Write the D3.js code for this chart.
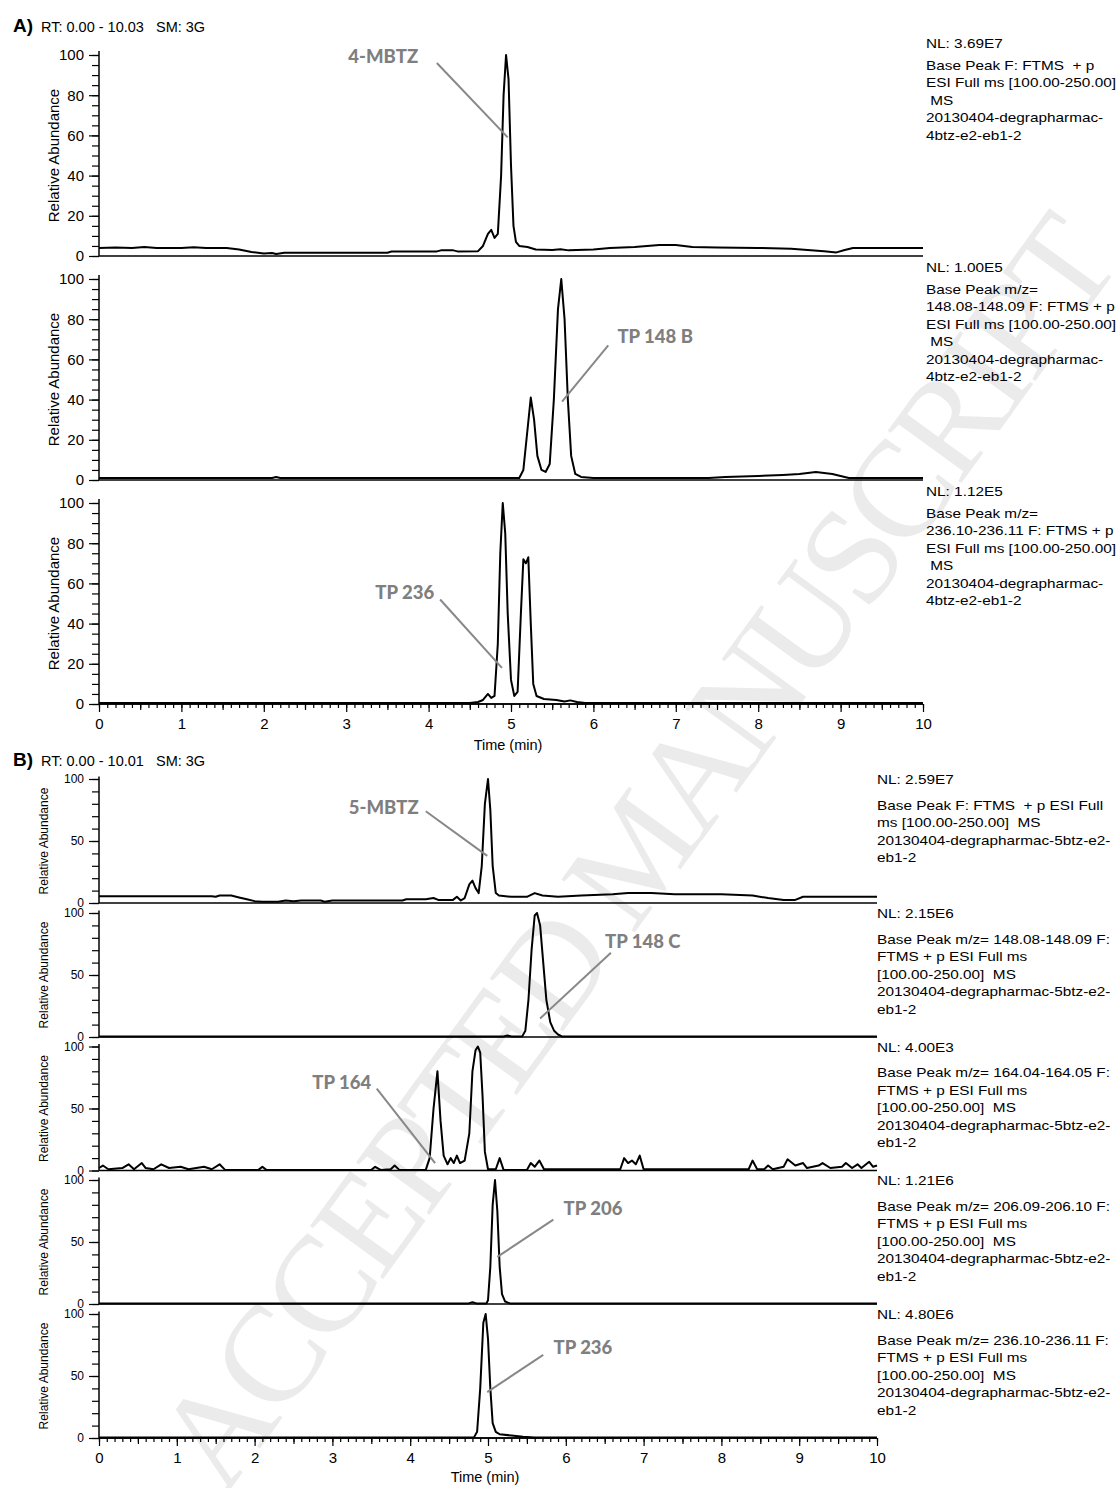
<!DOCTYPE html>
<html>
<head>
<meta charset="utf-8">
<script src="https://cdn.jsdelivr.net/npm/d3@7"></script>
<style>
  body { margin: 0; background: #fff; }
  svg text { font-family: "Liberation Sans", Arial, sans-serif; }
</style>
</head>
<body>
<div id="figure"></div>
<script>
// chromatogram traces: [time (min), relative abundance (%)]
var traceA1 = [[0,4],[0.2,4.2],[0.4,4],[0.55,4.5],[0.7,4],[1.0,4],[1.15,4.4],[1.3,4],[1.55,4],[1.7,3.2],[1.85,2],[2.0,1.2],[2.1,1.5],[2.15,1],[2.25,1.6],[3.5,1.6],[3.55,2.2],[4.1,2.3],[4.15,2.8],[4.3,2.8],[4.35,2.3],[4.6,2.4],[4.66,5],[4.72,11],[4.76,13],[4.8,9],[4.84,11],[4.88,40],[4.91,80],[4.94,100],[4.97,88],[5.0,45],[5.03,15],[5.06,7],[5.1,5],[5.2,4.5],[5.3,3.2],[5.5,3],[5.6,3.4],[5.7,2.8],[6.0,3.2],[6.2,4],[6.5,4.5],[6.8,5.5],[7.0,5.5],[7.2,4.5],[7.5,4.2],[8.0,4],[8.4,3.6],[8.6,3],[8.8,2.4],[8.95,1.8],[9.05,3],[9.15,4],[10,4]];
var traceA2 = [[0,1],[2.1,1],[2.15,1.5],[2.2,1],[5.1,1],[5.15,5],[5.2,25],[5.24,41],[5.28,30],[5.32,12],[5.37,5],[5.42,4],[5.47,8],[5.52,40],[5.57,85],[5.61,100],[5.65,80],[5.69,40],[5.73,12],[5.78,3],[5.85,1.5],[6.0,1],[7.4,1],[7.6,1.5],[8.0,2],[8.3,2.5],[8.5,3],[8.7,4],[8.8,3.5],[8.9,3],[9.0,2],[9.1,1],[10,1]];
var traceA3 = [[0,0.5],[4.5,0.5],[4.6,1],[4.66,2],[4.72,5],[4.76,3],[4.8,4],[4.84,30],[4.87,75],[4.9,100],[4.93,85],[4.96,45],[5.0,12],[5.04,4],[5.08,6],[5.12,45],[5.15,72],[5.18,70],[5.21,73],[5.24,40],[5.27,10],[5.31,4],[5.4,2.5],[5.55,2],[5.65,1.2],[5.72,1.8],[5.8,1],[5.9,0.5],[10,0.5]];
var traceB1 = [[0,5.5],[1.45,5.5],[1.5,5],[1.55,6],[1.7,6],[1.8,4.5],[1.9,3],[2.0,1.5],[2.1,1],[2.3,1],[2.4,2],[2.5,1.5],[2.6,2],[2.85,2],[2.9,1],[3.0,2],[3.9,2],[3.95,3],[4.2,3],[4.3,4],[4.36,2.5],[4.55,2.5],[4.6,5],[4.65,2],[4.7,4],[4.76,15],[4.8,18],[4.84,12],[4.88,8],[4.92,30],[4.96,80],[5.0,100],[5.03,75],[5.06,30],[5.1,8],[5.14,6],[5.3,5],[5.5,5],[5.6,8],[5.7,6],[5.9,5],[6.2,6],[6.6,7],[6.8,8],[7.1,8],[7.4,7],[8.0,7],[8.4,6],[8.6,4],[8.8,2.5],[8.95,2.5],[9.05,5],[10,5]];
var traceB2 = [[0,0.5],[5.2,0.5],[5.25,1.2],[5.3,0.5],[5.44,0.5],[5.48,5],[5.52,30],[5.56,70],[5.6,98],[5.63,100],[5.67,90],[5.71,60],[5.75,30],[5.8,12],[5.85,5],[5.9,2],[5.95,0.5],[10,0.5]];
var traceB3 = [[0,2],[0.05,4],[0.12,1],[0.3,2],[0.38,5],[0.45,1],[0.55,6],[0.6,2],[0.7,1],[0.8,5],[0.9,2],[1.05,3],[1.15,1],[1.35,3],[1.45,1],[1.55,5],[1.62,0.5],[2.05,0.5],[2.1,3],[2.15,0.5],[3.5,0.5],[3.55,3],[3.62,0.5],[3.75,1],[3.8,4],[3.86,0.5],[4.2,0.5],[4.25,10],[4.3,50],[4.35,80],[4.39,40],[4.43,12],[4.48,5],[4.52,10],[4.56,6],[4.6,12],[4.64,6],[4.7,8],[4.76,30],[4.8,80],[4.84,97],[4.87,100],[4.9,95],[4.93,60],[4.96,15],[5.0,1],[5.1,1],[5.15,10],[5.2,0.5],[5.5,0.5],[5.55,6],[5.6,3],[5.66,8],[5.72,1],[6.7,1],[6.75,10],[6.8,6],[6.85,8],[6.9,5],[6.95,12],[7.0,1],[8.35,1],[8.4,8],[8.46,1],[8.55,1],[8.6,4],[8.66,1],[8.8,3],[8.85,9],[8.95,4],[9.05,6],[9.1,2],[9.25,4],[9.3,6],[9.4,2],[9.55,3],[9.6,6],[9.68,2],[9.75,5],[9.8,2],[9.9,7],[9.95,3],[10,4]];
var traceB4 = [[0,0.5],[4.75,0.5],[4.8,1.5],[4.85,0.5],[4.98,0.5],[5.0,3],[5.03,30],[5.06,80],[5.09,100],[5.12,75],[5.15,30],[5.18,8],[5.22,2],[5.28,0.5],[10,0.5]];
var traceB5 = [[0,0.5],[4.82,0.5],[4.86,5],[4.9,40],[4.94,93],[4.97,100],[5.0,80],[5.03,40],[5.06,12],[5.1,5],[5.15,3],[5.3,2],[5.45,1],[5.6,0.5],[10,0.5]];

// compound names
var namesA = ["4-MBTZ", "TP 148 B", "TP 236"];
var namesB = ["5-MBTZ", "TP 148 C", "TP 164", "TP 206", "TP 236"];

// instrument notes on the right
var infoA1 = ["NL: 3.69E7", "Base Peak F: FTMS  + p", "ESI Full ms [100.00-250.00]", " MS", "20130404-degrapharmac-", "4btz-e2-eb1-2"];
var infoA2 = ["NL: 1.00E5", "Base Peak m/z=", "148.08-148.09 F: FTMS + p", "ESI Full ms [100.00-250.00]", " MS", "20130404-degrapharmac-", "4btz-e2-eb1-2"];
var infoA3 = ["NL: 1.12E5", "Base Peak m/z=", "236.10-236.11 F: FTMS + p", "ESI Full ms [100.00-250.00]", " MS", "20130404-degrapharmac-", "4btz-e2-eb1-2"];
var infoB1 = ["NL: 2.59E7", "Base Peak F: FTMS  + p ESI Full", "ms [100.00-250.00]  MS", "20130404-degrapharmac-5btz-e2-", "eb1-2"];
var infoB2 = ["NL: 2.15E6", "Base Peak m/z= 148.08-148.09 F:", "FTMS + p ESI Full ms", "[100.00-250.00]  MS", "20130404-degrapharmac-5btz-e2-", "eb1-2"];
var infoB3 = ["NL: 4.00E3", "Base Peak m/z= 164.04-164.05 F:", "FTMS + p ESI Full ms", "[100.00-250.00]  MS", "20130404-degrapharmac-5btz-e2-", "eb1-2"];
var infoB4 = ["NL: 1.21E6", "Base Peak m/z= 206.09-206.10 F:", "FTMS + p ESI Full ms", "[100.00-250.00]  MS", "20130404-degrapharmac-5btz-e2-", "eb1-2"];
var infoB5 = ["NL: 4.80E6", "Base Peak m/z= 236.10-236.11 F:", "FTMS + p ESI Full ms", "[100.00-250.00]  MS", "20130404-degrapharmac-5btz-e2-", "eb1-2"];

var timeTicks = d3.range(0, 11);
var yTicksA = [0, 20, 40, 60, 80, 100];
var yTicksB = [0, 50, 100];

// label placement (data coords): text anchor [t, v], leader from [t, v] to [t, v]
var callA = [
  {text: [3.45, 96], from: [4.1, 96], to: [4.96, 59]},
  {text: [6.75, 68], from: [6.18, 67], to: [5.62, 39]},
  {text: [3.71, 52], from: [4.14, 52], to: [4.89, 18]}
];
var callB = [
  {text: [3.66, 72], from: [4.2, 74], to: [4.99, 38]},
  {text: [6.99, 72], from: [6.58, 68], to: [5.67, 15]},
  {text: [3.12, 66], from: [3.57, 66], to: [4.32, 6]},
  {text: [6.35, 72], from: [5.84, 68], to: [5.12, 38]},
  {text: [6.22, 68], from: [5.71, 67], to: [4.99, 37]}
];

var svg = d3.select("#figure").append("svg")
  .attr("width", 1120)
  .attr("height", 1488);

// watermark
svg.append("text")
  .attr("transform", "translate(635,850) rotate(-54)")
  .attr("text-anchor", "middle")
  .attr("dy", "0.35em")
  .style("font-family", "'Liberation Serif', 'DejaVu Serif', serif")
  .style("font-size", "138px")
  .attr("textLength", 1530)
  .attr("lengthAdjust", "spacing")
  .attr("fill", "#ebebeb")
  .text("ACCEPTED MANUSCRIPT");

var line = d3.line();

function drawPanel(p) {
  var x = d3.scaleLinear().domain([0, 10]).range([p.x0, p.x1]);
  var g = svg.append("g");

  // header
  g.append("text").attr("x", 13).attr("y", p.headY)
    .style("font-weight", "bold").style("font-size", "19px")
    .text(p.letter);
  g.append("text").attr("x", 41).attr("y", p.headY)
    .style("font-size", "14.5px").style("white-space", "pre")
    .text(p.rt);

  p.traces.forEach(function(tr, i) {
    var base = p.bases[i];
    var y = d3.scaleLinear().domain([0, 100]).range([base, base - p.h]);
    var sg = g.append("g");

    // zero line
    sg.append("line")
      .attr("x1", x(0)).attr("x2", x(10))
      .attr("y1", y(0)).attr("y2", y(0))
      .attr("stroke", "#000").attr("stroke-width", 1.5);

    // y axis: minor then major ticks
    sg.append("g")
      .attr("transform", "translate(" + x(0) + ",0)")
      .call(d3.axisLeft(y).tickValues(d3.range(0, 101, p.yMinor)).tickSize(7).tickSizeOuter(0).tickFormat(""))
      .call(function(a) { a.select(".domain").remove(); });
    var ya = sg.append("g")
      .attr("transform", "translate(" + x(0) + ",0)")
      .call(d3.axisLeft(y).tickValues(p.yTicks).tickSize(10).tickSizeOuter(0).tickPadding(5))
      .call(function(a) { a.select(".domain").remove(); });
    ya.selectAll("text").style("font-size", p.yFont + "px").attr("fill", "#000");
    sg.selectAll(".tick line").attr("stroke", "#000").attr("stroke-width", 1.2);
    sg.append("line")
      .attr("x1", x(0)).attr("x2", x(0))
      .attr("y1", y(0)).attr("y2", y(102))
      .attr("stroke", "#000").attr("stroke-width", 1.5);

    sg.append("text")
      .attr("transform", "translate(" + p.yLabelX + "," + (base - p.h / 2) + ") rotate(-90)")
      .attr("text-anchor", "middle")
      .style("font-size", p.yLabelFont + "px")
      .text("Relative Abundance");

    // trace
    sg.append("path")
      .datum(tr)
      .attr("d", line.x(function(d) { return x(d[0]); }).y(function(d) { return y(d[1]); }))
      .attr("fill", "none")
      .attr("stroke", "#000")
      .attr("stroke-width", 2)
      .attr("stroke-linejoin", "round");

    // peak call-out
    var c = p.calls[i];
    sg.append("line")
      .attr("x1", x(c.from[0])).attr("y1", y(c.from[1]))
      .attr("x2", x(c.to[0])).attr("y2", y(c.to[1]))
      .attr("stroke", "#888").attr("stroke-width", 2);
    sg.append("text")
      .attr("x", x(c.text[0])).attr("y", y(c.text[1]))
      .attr("text-anchor", "middle")
      .style("font-family", "Lato, 'Open Sans', sans-serif")
      .style("font-weight", "900")
      .style("font-size", "18.5px")
      .attr("fill", "#7f7f7f")
      .text(p.names[i]);

    // instrument notes
    var info = sg.append("g")
      .attr("transform", "translate(" + p.infoX + "," + (base - p.h) + ") scale(1.18,1)");
    info.selectAll("text")
      .data(p.infos[i])
      .enter().append("text")
      .attr("x", 0)
      .attr("y", function(d, k) { return k === 0 ? p.nlDy : p.baseDy + (k - 1) * 17.4; })
      .style("font-size", "13px")
      .style("white-space", "pre")
      .text(function(d) { return d; });
  });

  // time axis under the last trace
  var last = p.bases[p.bases.length - 1];
  var ax = g.append("g").attr("transform", "translate(0," + last + ")");
  ax.append("g").call(d3.axisBottom(x).tickValues(d3.range(0, 10.001, 0.1)).tickSize(4).tickFormat(""));
  ax.append("g").call(d3.axisBottom(x).tickValues(d3.range(0.5, 10, 1)).tickSize(6).tickFormat(""));
  var xa = ax.append("g").call(d3.axisBottom(x).tickValues(timeTicks).tickSize(8).tickPadding(6).tickFormat(d3.format("d")));
  ax.selectAll(".domain").remove();
  ax.selectAll(".tick line").attr("stroke", "#000").attr("stroke-width", 1.2);
  xa.selectAll("text").style("font-size", "15px").attr("fill", "#000");
  ax.append("line").attr("x1", x(0)).attr("x2", x(10)).attr("stroke", "#000").attr("stroke-width", 1.5);
  g.append("text")
    .attr("x", (p.x0 + p.x1) / 2 - 3)
    .attr("y", last + p.timeLabelDy)
    .attr("text-anchor", "middle")
    .style("font-size", "14.5px")
    .text("Time (min)");
}

drawPanel({
  letter: "A)", rt: "RT: 0.00 - 10.03   SM: 3G", headY: 32,
  x0: 99, x1: 923, bases: [256, 480, 704], h: 201,
  traces: [traceA1, traceA2, traceA3], names: namesA, calls: callA,
  infos: [infoA1, infoA2, infoA3],
  yTicks: yTicksA, yMinor: 5, yFont: 15, yLabelX: 59, yLabelFont: 15,
  infoX: 926, nlDy: -7, baseDy: 15, timeLabelDy: 46
});

drawPanel({
  letter: "B)", rt: "RT: 0.00 - 10.01   SM: 3G", headY: 766,
  x0: 99, x1: 877, bases: [903, 1037, 1170.5, 1304, 1438], h: 124,
  traces: [traceB1, traceB2, traceB3, traceB4, traceB5], names: namesB, calls: callB,
  infos: [infoB1, infoB2, infoB3, infoB4, infoB5],
  yTicks: yTicksB, yMinor: 10, yFont: 12, yLabelX: 48, yLabelFont: 12,
  infoX: 877, nlDy: 5, baseDy: 31, timeLabelDy: 44
});
</script>
</body>
</html>
